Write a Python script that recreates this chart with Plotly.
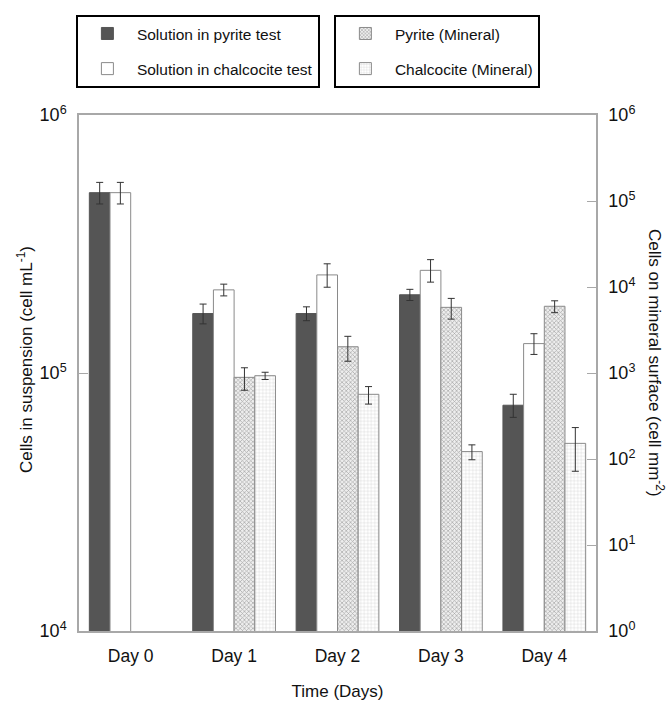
import plotly.graph_objects as go

days = ["Day 0", "Day 1", "Day 2", "Day 3", "Day 4"]
pyrite_sol = [5.0e5, 1.70e5, 1.70e5, 2.01e5, 7.5e4]
pyrite_sol_err = [4.8e4, 1.5e4, 1.05e4, 1.0e4, 7.7e3]
chalco_sol = [5.0e5, 2.10e5, 2.40e5, 2.50e5, 1.30e5]
chalco_sol_err = [4.8e4, 1.1e4, 2.5e4, 2.5e4, 1.2e4]
pyrite_min = [None, 890, 2020, 5800, 5970]
pyrite_min_err = [None, 260, 650, 1570, 940]
chalco_min = [None, 930, 565, 122, 152]
chalco_min_err = [None, 90, 130, 24, 80]

left_tickvals = [1e4, 1e5, 1e6]
left_ticktext = ["10<sup>4</sup>", "10<sup>5</sup>", "10<sup>6</sup>"]
right_tickvals = [1e0, 1e1, 1e2, 1e3, 1e4, 1e5, 1e6]
right_ticktext = ["10<sup>0</sup>", "10<sup>1</sup>", "10<sup>2</sup>", "10<sup>3</sup>",
                  "10<sup>4</sup>", "10<sup>5</sup>", "10<sup>6</sup>"]

FONT = "Liberation Sans, Arial, sans-serif"
AXIS_GRAY = "#a8a8a8"
OUTLINE = "#8a8a8a"
ERR = "#333333"
W = 0.2

fig = go.Figure()

def err(arr):
    return dict(type="data", array=arr, visible=True, color=ERR, thickness=1, width=3.5)

fig.add_trace(go.Bar(
    x=days, y=pyrite_sol, width=W, offset=-0.4, name="Solution in pyrite test",
    marker=dict(color="#555555", line=dict(color="#555555", width=1)),
    error_y=err(pyrite_sol_err), legend="legend", legendgroup="a",
))
fig.add_trace(go.Bar(
    x=days, y=chalco_sol, width=W, offset=-0.2, name="Solution in chalcocite test",
    marker=dict(color="white", line=dict(color=OUTLINE, width=1)),
    error_y=err(chalco_sol_err), legend="legend", legendgroup="b",
))
fig.add_trace(go.Bar(
    x=days, y=pyrite_min, width=W, offset=0.0, name="Pyrite (Mineral)", yaxis="y2",
    marker=dict(color="white", line=dict(color=OUTLINE, width=1),
                pattern=dict(shape="x", size=3, solidity=0.4, fgcolor="#5e5e5e", bgcolor="#eeeeee")),
    error_y=err(pyrite_min_err), legend="legend2", legendgroup="c",
))
fig.add_trace(go.Bar(
    x=days, y=chalco_min, width=W, offset=0.2, name="Chalcocite (Mineral)", yaxis="y2",
    marker=dict(color="white", line=dict(color=OUTLINE, width=1),
                pattern=dict(shape="+", size=3.5, solidity=0.2, fgcolor="#9a9a9a", bgcolor="white")),
    error_y=err(chalco_min_err), legend="legend2", legendgroup="d",
))

legend_common = dict(
    xanchor="left", yanchor="top", orientation="v",
    bordercolor="black", borderwidth=2, bgcolor="white",
    font=dict(size=15.5), tracegroupgap=12, itemwidth=49, traceorder="grouped",
)

fig.update_layout(
    width=668, height=701,
    margin=dict(l=79, r=72, t=115, b=70, autoexpand=False),
    paper_bgcolor="white", plot_bgcolor="white",
    font=dict(family=FONT, size=16, color="#111111"),
    barmode="overlay",
    xaxis=dict(
        type="category", range=[-0.5, 4.5], showline=True, linecolor=AXIS_GRAY, linewidth=1.5,
        mirror=True, ticks="", showgrid=False, zeroline=False, automargin=False,
        ticklabelstandoff=8,
        title=dict(text="Time (Days)", standoff=26, font=dict(size=17)),
        tickfont=dict(size=17.5),
    ),
    yaxis=dict(
        type="log", range=[4, 6], tickvals=left_tickvals, ticktext=left_ticktext,
        showline=True, linecolor=AXIS_GRAY, linewidth=1.5, ticks="inside", ticklen=9,
        tickcolor=AXIS_GRAY, showgrid=False, zeroline=False, tickfont=dict(size=18),
        ticklabelstandoff=7, automargin=False,
    ),
    yaxis2=dict(
        type="log", range=[0, 6], tickvals=right_tickvals, ticktext=right_ticktext,
        overlaying="y", side="right", showline=True, linecolor=AXIS_GRAY, linewidth=1.5,
        ticks="inside", ticklen=9, tickcolor=AXIS_GRAY, showgrid=False, zeroline=False,
        tickfont=dict(size=18), ticklabelstandoff=7, automargin=False,
    ),
    legend=dict(x=-0.006, y=1.194, **legend_common),
    legend2=dict(x=0.493, y=1.194, **legend_common),
    annotations=[
        dict(
            text="Cells in suspension (cell mL<sup>-1</sup>)", textangle=-90,
            xref="paper", yref="paper", x=0.0, y=0.5, xanchor="center", yanchor="middle",
            xshift=-54, yshift=13, showarrow=False, font=dict(size=17),
        ),
        dict(
            text="Cells on mineral surface (cell mm<sup>-2</sup>)", textangle=90,
            xref="paper", yref="paper", x=1.0, y=0.5, xanchor="center", yanchor="middle",
            xshift=60, yshift=10, showarrow=False, font=dict(size=17),
        ),
    ],
)

fig.write_html("out.html")
